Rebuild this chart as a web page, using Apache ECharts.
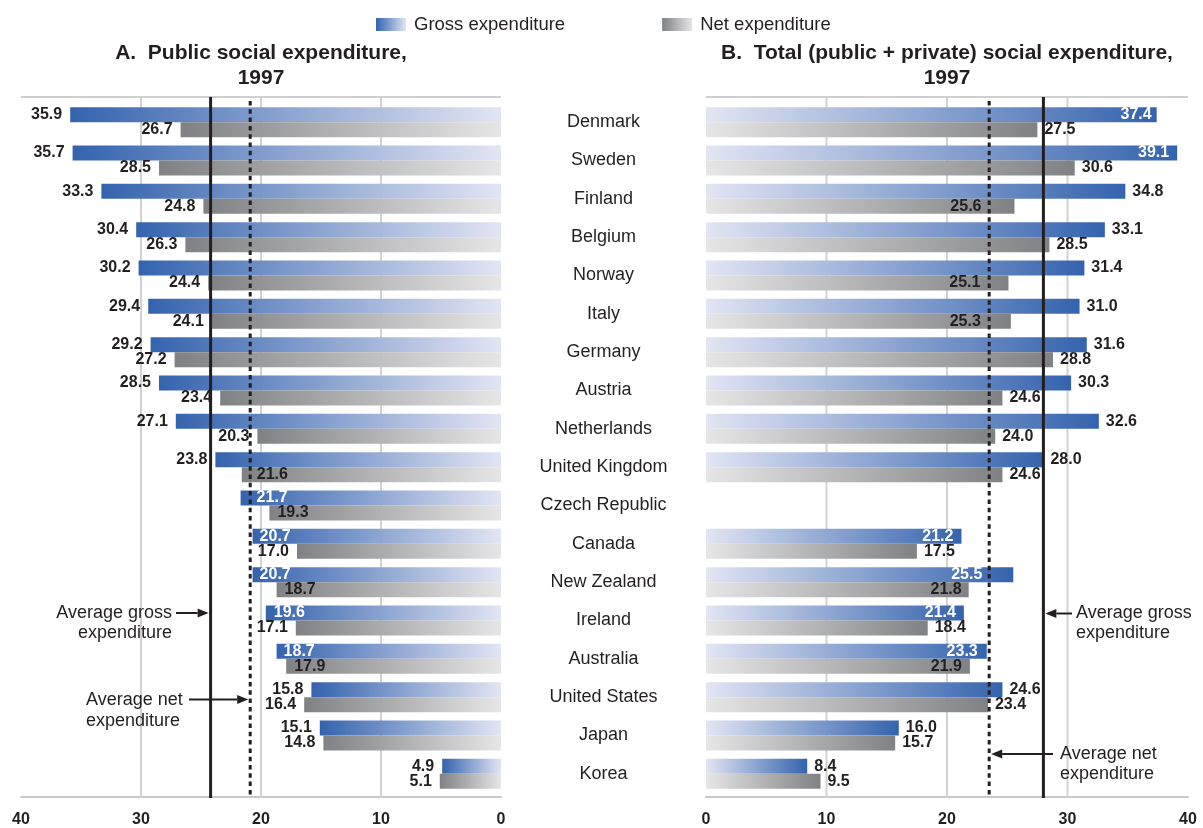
<!DOCTYPE html>
<html><head><meta charset="utf-8">
<script src="https://cdn.jsdelivr.net/npm/echarts@6/dist/echarts.min.js"></script>
<style>html,body{margin:0;padding:0;background:#fff}#c{width:1203px;height:828px}</style>
</head><body><div id="c"></div>
<script>
// ---------------- data ----------------
const countries = ['Denmark','Sweden','Finland','Belgium','Norway','Italy','Germany','Austria','Netherlands','United Kingdom','Czech Republic','Canada','New Zealand','Ireland','Australia','United States','Japan','Korea'];
const publicGross = [35.9,35.7,33.3,30.4,30.2,29.4,29.2,28.5,27.1,23.8,21.7,20.7,20.7,19.6,18.7,15.8,15.1,4.9];
const publicNet   = [26.7,28.5,24.8,26.3,24.4,24.1,27.2,23.4,20.3,21.6,19.3,17.0,18.7,17.1,17.9,16.4,14.8,5.1];
const totalGross  = [37.4,39.1,34.8,33.1,31.4,31.0,31.6,30.3,32.6,28.0,null,21.2,25.5,21.4,23.3,24.6,16.0,8.4];
const totalNet    = [27.5,30.6,25.6,28.5,25.1,25.3,28.8,24.6,24.0,24.6,null,17.5,21.8,18.4,21.9,23.4,15.7,9.5];
const publicAvgGross = 24.2;
const publicAvgNet = 20.9;
const totalAvgGross = 28.0;
const totalAvgNet = 23.5;
const axisMin = 0, axisMax = 40, axisStep = 10;
const gridValues = [10, 20, 30];
const seriesNames = ['Gross expenditure', 'Net expenditure'];
const panelTitles = ['A.  Public social expenditure,\n1997', 'B.  Total (public + private) social expenditure,\n1997'];
const annGross = 'Average gross\nexpenditure';
const annNet = 'Average net\nexpenditure';

// ------------- label placement (index -> inside distance) -------------
const leftGrossInside = {10:16, 11:7, 12:7, 13:8, 14:7};
const leftNetInside = {9:15, 10:8, 12:8, 14:8};
const rightGrossInside = {0:5, 1:8, 11:8, 12:31, 13:8, 14:9};
const rightNetInside = {2:33, 4:28, 5:30, 12:7, 14:8};

const FONT = 'Liberation Sans, Arial, Helvetica, sans-serif';
const DARK = '#231f20';
const GROSS_DARK = '#3463ae', GROSS_LIGHT = '#e2e5f3';
const NET_DARK = '#808184', NET_LIGHT = '#e6e6e7';

function grad(c0, c1) {
  return {type:'linear', x:0, y:0, x2:1, y2:0, colorStops:[{offset:0, color:c0},{offset:1, color:c1}]};
}
function makeData(values, insideMap, outsidePos, insidePos, insideColor, outsideDist) {
  return values.map((v, i) => {
    if (v == null) return {value: null, label: {show: false}};
    const inside = Object.prototype.hasOwnProperty.call(insideMap, i);
    return {value: v, label: {position: inside ? insidePos : outsidePos,
      distance: inside ? insideMap[i] : outsideDist, color: inside ? insideColor : DARK}};
  });
}
const labelBase = {show:true, fontSize:16, fontWeight:'bold', fontFamily:FONT, color:DARK,
  formatter: p => (p.value == null ? '' : Number(p.value).toFixed(1))};

function xAxisCfg(gi, inverse) {
  return {gridIndex:gi, type:'value', min:axisMin, max:axisMax, interval:axisStep, inverse:inverse, offset:4,
    axisLine:{show:true, lineStyle:{color:'#c9c9c9', width:2}}, axisTick:{show:false}, splitLine:{show:false},
    axisLabel:{fontSize:16, fontWeight:'bold', fontFamily:FONT, color:DARK, margin:15, showMinLabel:true, showMaxLabel:true}};
}

const option = {
  animation:false,
  backgroundColor:'#fff',
  legend:{data:seriesNames, left:371, top:10, itemWidth:30, itemHeight:13, itemGap:97, icon:'rect',
    textStyle:{fontSize:18.5, fontFamily:FONT, color:DARK, padding:[0,0,0,3]}},
  grid:[
    {left:21, right:702, top:103, bottom:33},
    {left:706, right:15, top:103, bottom:33}
  ],
  xAxis:[xAxisCfg(0, true), xAxisCfg(1, false)],
  yAxis:[
    {gridIndex:0, type:'category', data:countries, inverse:true, axisLine:{show:false}, axisTick:{show:false}, axisLabel:{show:false}},
    {gridIndex:1, type:'category', data:countries, inverse:true, axisLine:{show:false}, axisTick:{show:false},
      axisLabel:{show:true, align:'center', margin:102.5, fontSize:18, fontFamily:FONT, color:DARK}}
  ],
  series:[
    {name:seriesNames[0], type:'bar', xAxisIndex:0, yAxisIndex:0, barWidth:15, barGap:'0%',
      itemStyle:{color:grad(GROSS_DARK, GROSS_LIGHT)}, label:labelBase,
      data:makeData(publicGross, leftGrossInside, 'left', 'insideLeft', '#ffffff', 8)},
    {name:seriesNames[1], type:'bar', xAxisIndex:0, yAxisIndex:0, barWidth:15, barGap:'0%',
      itemStyle:{color:grad(NET_DARK, NET_LIGHT)}, label:labelBase,
      data:makeData(publicNet, leftNetInside, 'left', 'insideLeft', DARK, 8)},
    {name:seriesNames[0], type:'bar', xAxisIndex:1, yAxisIndex:1, barWidth:15, barGap:'0%',
      itemStyle:{color:grad(GROSS_LIGHT, GROSS_DARK)}, label:labelBase,
      data:makeData(totalGross, rightGrossInside, 'right', 'insideRight', '#ffffff', 7)},
    {name:seriesNames[1], type:'bar', xAxisIndex:1, yAxisIndex:1, barWidth:15, barGap:'0%',
      itemStyle:{color:grad(NET_LIGHT, NET_DARK)}, label:labelBase,
      data:makeData(totalNet, rightNetInside, 'right', 'insideRight', DARK, 7)}
  ]
};

const chart = echarts.init(document.getElementById('c'), null, {renderer:'canvas'});
chart.setOption(option);

// ------------- overlays computed from the axes -------------
const px = (gi, v) => chart.convertToPixel({xAxisIndex:gi}, v);
const TOP = 97, BOT = 798;
const g = [];
function vline(x, y0, y1, color, w, dash, z) {
  g.push({type:'line', z:z, shape:{x1:x, y1:y0, x2:x, y2:y1}, style:{stroke:color, lineWidth:w, lineDash:dash || null}, silent:true});
}
function arrow(x0, x1, y) {
  const dir = x1 > x0 ? 1 : -1;
  const hl = 11, hw = 4.5;
  g.push({type:'line', z:20, shape:{x1:x0, y1:y, x2:x1 - dir*hl, y2:y}, style:{stroke:DARK, lineWidth:2}, silent:true});
  g.push({type:'polygon', z:20, shape:{points:[[x1, y],[x1 - dir*hl, y - hw],[x1 - dir*hl, y + hw]]}, style:{fill:DARK}, silent:true});
}
function text(x, y, s, align, size, weight, lh) {
  g.push({type:'text', z:20, x:x, y:y, style:{text:s, align:align, verticalAlign:'middle', fontSize:size,
    fontWeight:weight, fontFamily:FONT, fill:DARK, lineHeight:lh}, silent:true});
}
[0, 1].forEach(gi => {
  gridValues.forEach(v => vline(px(gi, v), TOP, BOT, '#d2d2d2', 2, null, 1));
  g.push({type:'line', z:1, shape:{x1:px(gi, axisMin), y1:TOP, x2:px(gi, axisMax), y2:TOP}, style:{stroke:'#cfcfcf', lineWidth:2}, silent:true});
});
// averages
const lAG = px(0, publicAvgGross), lAN = px(0, publicAvgNet);
const rAG = px(1, totalAvgGross), rAN = px(1, totalAvgNet);
vline(lAG, TOP, BOT, DARK, 3, null, 15);
vline(lAN, TOP + 4, BOT, DARK, 3, [4.5, 3.8], 15);
vline(rAG, TOP, BOT, DARK, 3, null, 15);
vline(rAN, TOP + 4, BOT, DARK, 3, [4.5, 3.8], 15);
// annotations
arrow(176, lAG - 2, 613);
text(172, 623, annGross, 'right', 18, 'normal', 20);
arrow(189, lAN - 2, 699.5);
text(86, 711, annNet, 'left', 18, 'normal', 21);
arrow(1072, rAG + 2, 613.5);
text(1076, 623.5, annGross, 'left', 18, 'normal', 20);
arrow(1053, rAN + 2, 754);
text(1060, 764, annNet, 'left', 18, 'normal', 20);
// panel titles
text((px(0, axisMin) + px(0, axisMax)) / 2, 66, panelTitles[0], 'center', 21, 'bold', 25);
text((px(1, axisMin) + px(1, axisMax)) / 2, 66, panelTitles[1], 'center', 21, 'bold', 25);

chart.setOption({graphic:{elements:g}});
</script>
</body></html>
